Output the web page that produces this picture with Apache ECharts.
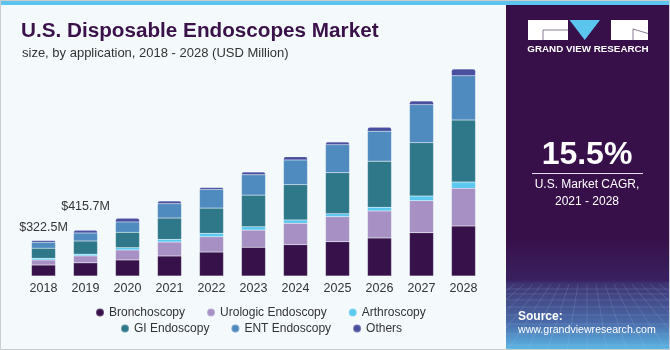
<!DOCTYPE html>
<html lang="en">
<head>
    <meta charset="UTF-8">
    <title>U.S. Disposable Endoscopes Market</title>
    <script src="https://cdn.jsdelivr.net/npm/echarts@6/dist/echarts.min.js"></script>
    <style>
        html, body { margin: 0; padding: 0; background: #f4f9fc; }
        #main { width: 670px; height: 350px; }
    </style>
</head>
<body>
<div id="main"></div>
<script type="text/javascript">
    // data (USD Million)
    var years = ['2018', '2019', '2020', '2021', '2022', '2023', '2024', '2025', '2026', '2027', '2028']
    var bronchoscopy = [100, 120, 146, 182, 218, 261, 285, 312, 346, 394, 455]
    var urologic = [46, 63, 91, 127, 139, 157, 195, 228, 246, 291, 343]
    var arthroscopy = [15, 15.5, 21, 24.5, 31, 30, 30, 27, 34, 43, 57]
    var giEndoscopy = [92, 120, 140, 194, 230, 288, 321, 373, 419, 485, 564]
    var entEndoscopy = [55, 73, 94, 130, 170, 185, 225, 255, 273, 346, 403]
    var others = [14.5, 24.2, 34, 25, 18, 25, 30, 25, 36, 34, 61]
    var totalLabels = ['$322.5M', '$415.7M']

    var chart = echarts.init(document.getElementById('main'))

    var font = '"Liberation Sans", Arial, sans-serif'

    // top series carries the total labels
    var othersData = others.map(function (v, i) {
        if (!totalLabels[i]) return v
        return {
            value: v,
            label: {
                show: true,
                position: 'top',
                distance: i === 0 ? 7 : 17,
                formatter: totalLabels[i],
                color: '#333',
                fontSize: 12.5,
                fontFamily: font
            }
        }
    })

    function bar(name, data, color, extra) {
        var s = {
            name: name,
            type: 'bar',
            stack: 'total',
            barWidth: 24,
            data: data,
            itemStyle: { color: color, borderColor: 'rgba(255,255,255,0.25)', borderWidth: 0.5 },
            emphasis: { disabled: true }
        }
        if (extra) s.itemStyle.borderRadius = [2, 2, 0, 0]
        return s
    }

    // perspective grid lines in the bottom of the side panel
    var gridLines = []
    var vx = 587
    for (var x0 = 470; x0 <= 710; x0 += 9) {
        var x1 = vx + (x0 - vx) * 2.2
        var p1 = [x0, 284], p2 = [x1, 350]
        if (x0 < 506) {
            if (x1 < 506) continue
            var t = (506 - x0) / (x1 - x0)
            p1 = [506, 284 + 66 * t]
        }
        if (x1 < 506) {
            var t2 = (506 - x0) / (x1 - x0)
            p2 = [506, 284 + 66 * t2]
        }
        gridLines.push({
            type: 'line', silent: true,
            shape: { x1: p1[0], y1: p1[1], x2: p2[0], y2: p2[1] },
            style: { stroke: 'rgba(190,215,255,0.22)', lineWidth: 0.7 }
        })
    }
    var hy = [289, 294, 300, 307, 315, 324, 334, 345]
    for (var k = 0; k < hy.length; k++) {
        gridLines.push({
            type: 'line', silent: true,
            shape: { x1: 506, y1: hy[k], x2: 670, y2: hy[k] },
            style: { stroke: 'rgba(190,215,255,0.22)', lineWidth: 0.7 }
        })
    }

    var option = {
        backgroundColor: '#f4f9fc',
        animation: false,
        textStyle: { fontFamily: font },
        title: [
            {
                text: 'U.S. Disposable Endoscopes Market',
                left: 16,
                top: 16,
                textStyle: { color: '#3a1149', fontSize: 20.7, fontWeight: 'bold', fontFamily: font }
            },
            {
                text: 'size, by application, 2018 - 2028 (USD Million)',
                left: 17,
                top: 42,
                textStyle: { color: '#333', fontSize: 13, fontWeight: 'normal', fontFamily: font }
            }
        ],
        legend: [
            {
                data: ['Bronchoscopy', 'Urologic Endoscopy', 'Arthroscopy'],
                left: 95,
                top: 306.5,
                padding: 0,
                icon: 'circle',
                itemWidth: 8,
                itemHeight: 8,
                itemGap: 21,
                selectedMode: false,
                textStyle: { color: '#333', fontSize: 12, fontFamily: font }
            },
            {
                data: ['GI Endoscopy', 'ENT Endoscopy', 'Others'],
                left: 120,
                top: 322.5,
                padding: 0,
                icon: 'circle',
                itemWidth: 8,
                itemHeight: 8,
                itemGap: 21,
                selectedMode: false,
                textStyle: { color: '#333', fontSize: 12, fontFamily: font }
            }
        ],
        grid: {
            left: 22.5,
            right: 185.5,
            top: 56,
            bottom: 74
        },
        xAxis: {
            type: 'category',
            data: years,
            axisLine: { show: false },
            axisTick: { show: false },
            axisLabel: { color: '#333', fontSize: 12.5, margin: 6, fontFamily: font }
        },
        yAxis: {
            type: 'value',
            min: 0,
            max: 2002,
            show: false,
            splitLine: { show: false }
        },
        series: [
            bar('Bronchoscopy', bronchoscopy, '#37114a'),
            bar('Urologic Endoscopy', urologic, '#a690c4'),
            bar('Arthroscopy', arthroscopy, '#5bc8f0'),
            bar('GI Endoscopy', giEndoscopy, '#2e7889'),
            bar('ENT Endoscopy', entEndoscopy, '#4f8bbf'),
            bar('Others', othersData, '#4a4fa0', true)
        ],
        graphic: [
            // side panel
            {
                type: 'rect', silent: true, z: -10,
                shape: { x: 506, y: 0, width: 164, height: 350 },
                style: {
                    fill: {
                        type: 'linear', x: 0, y: 0, x2: 0, y2: 1,
                        colorStops: [
                            { offset: 0, color: '#37104a' },
                            { offset: 0.68, color: '#37104a' },
                            { offset: 0.8, color: '#3a2060' },
                            { offset: 0.81, color: '#3d3370' },
                            { offset: 0.92, color: '#4a6aa8' },
                            { offset: 1, color: '#5cb8e6' }
                        ]
                    }
                }
            }
        ].concat(gridLines).concat([
            // top strip
            {
                type: 'rect', silent: true,
                shape: { x: 0, y: 0, width: 670, height: 5 },
                style: { fill: '#5cc5ee' }
            },
            // outer frame
            {
                type: 'rect', silent: true,
                shape: { x: 0.5, y: 0.5, width: 669, height: 349 },
                style: { fill: 'none', stroke: '#c9cdd0', lineWidth: 1 }
            },
            // logo
            {
                type: 'rect', silent: true,
                shape: { x: 528, y: 20, width: 40, height: 20 },
                style: { fill: '#ffffff' }
            },
            {
                type: 'polyline', silent: true,
                shape: { points: [[543, 40], [543, 30], [568, 30]] },
                style: { stroke: '#6a5a7a', lineWidth: 0.8, fill: 'none' }
            },
            {
                type: 'polygon', silent: true,
                shape: { points: [[569.5, 20], [600, 20], [584.7, 40]] },
                style: { fill: '#5cc5ee' }
            },
            {
                type: 'rect', silent: true,
                shape: { x: 611, y: 20, width: 37, height: 20 },
                style: { fill: '#ffffff' }
            },
            {
                type: 'polyline', silent: true,
                shape: { points: [[648, 33.5], [633, 29], [633, 40]] },
                style: { stroke: '#6a5a7a', lineWidth: 0.8, fill: 'none' }
            },
            {
                type: 'text', silent: true,
                style: {
                    text: 'GRAND VIEW RESEARCH', x: 588, y: 49.5,
                    align: 'center', verticalAlign: 'middle',
                    fill: '#ffffff', font: 'bold 9.8px ' + font
                }
            },
            // CAGR block
            {
                type: 'text', silent: true,
                style: {
                    text: '15.5%', x: 587, y: 155,
                    align: 'center', verticalAlign: 'middle',
                    fill: '#ffffff', font: 'bold 32px ' + font
                }
            },
            {
                type: 'line', silent: true,
                shape: { x1: 532, y1: 173.5, x2: 643, y2: 173.5 },
                style: { stroke: '#e8e0ee', lineWidth: 1 }
            },
            {
                type: 'text', silent: true,
                style: {
                    text: 'U.S. Market CAGR,', x: 587, y: 185,
                    align: 'center', verticalAlign: 'middle',
                    fill: '#ffffff', font: '12px ' + font
                }
            },
            {
                type: 'text', silent: true,
                style: {
                    text: '2021 - 2028', x: 587, y: 201.5,
                    align: 'center', verticalAlign: 'middle',
                    fill: '#ffffff', font: '12px ' + font
                }
            },
            // source
            {
                type: 'text', silent: true,
                style: {
                    text: 'Source:', x: 518, y: 317,
                    align: 'left', verticalAlign: 'middle',
                    fill: '#ffffff', font: 'bold 12px ' + font
                }
            },
            {
                type: 'text', silent: true,
                style: {
                    text: 'www.grandviewresearch.com', x: 518, y: 330,
                    align: 'left', verticalAlign: 'middle',
                    fill: '#ffffff', font: '10.6px ' + font
                }
            }
        ])
    }

    chart.setOption(option)
</script>
</body>
</html>
